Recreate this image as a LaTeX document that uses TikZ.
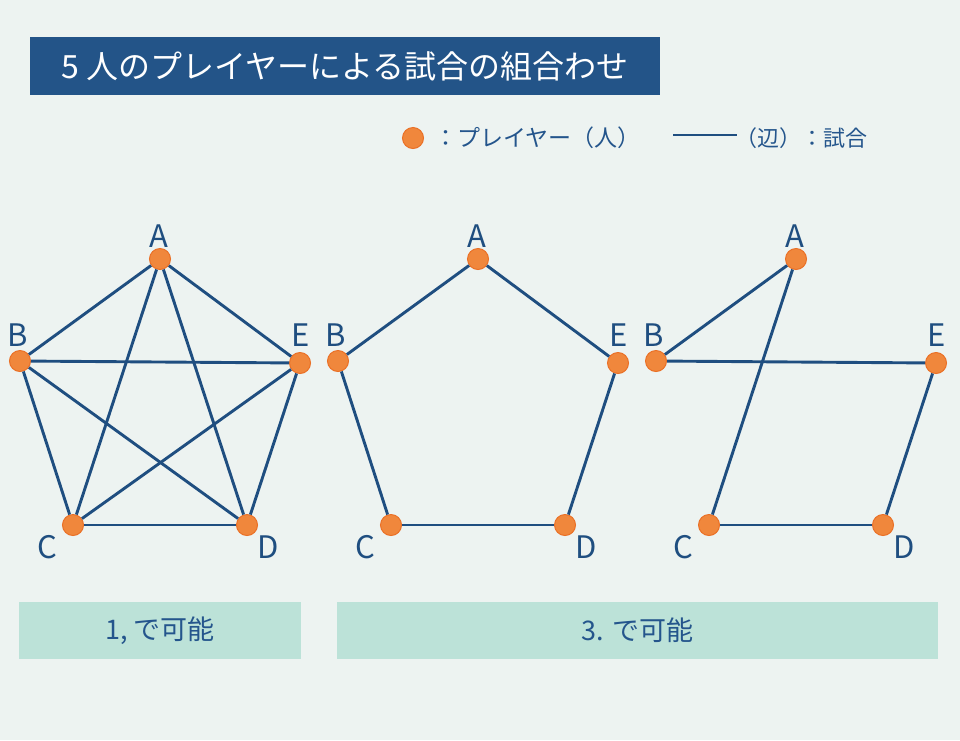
\documentclass[tikz,border=0pt]{standalone}
\usepackage{fontspec}
\setmainfont{Noto Sans CJK JP}
\definecolor{BgGray}{RGB}{237,243,241}
\definecolor{TitleBlue}{RGB}{35,84,136}
\definecolor{EdgeBlue}{RGB}{31,78,128}
\definecolor{TextBlue}{RGB}{36,85,140}
\definecolor{DotOrange}{RGB}{240,135,60}
\definecolor{DotRim}{RGB}{234,112,38}
\definecolor{NoteGreen}{RGB}{188,226,216}
\usetikzlibrary{positioning}

\begin{document}
\begin{tikzpicture}[x=1pt, y=-1pt,
        player/.style={circle, fill=DotOrange, draw=DotRim, line width=1pt,
                       minimum size=21pt, inner sep=0pt},
        plabel/.style={font=\fontsize{31}{32}\selectfont, text=EdgeBlue, inner sep=0pt},
        edge/.style={EdgeBlue, line width=2.9pt},
        titlebox/.style={rectangle, fill=TitleBlue, minimum width=630pt, minimum height=58pt,
                         text=white, font=\fontsize{32}{34}\selectfont},
        notebox/.style={rectangle, fill=NoteGreen, minimum height=57pt,
                        text=TextBlue, font=\fontsize{27}{29}\selectfont},
        legtext/.style={inner sep=0pt, text=TextBlue,
                        font=\fontsize{22}{24}\selectfont}
      ]
        \fill[BgGray] (0,0) rectangle (960,740);
        \useasboundingbox (0,0) rectangle (960,740);

        % Title
        \node[titlebox] (title) at (345,66) {5 人のプレイヤーによる試合の組合わせ};

        % Legend
        \node[player] (legdot) at (413,138) {};
        \node[legtext, anchor=west, font=\fontsize{23}{24}\selectfont] (legplayer) at (434,138) {：プレイヤー（人）};
        \coordinate (legL) at (673,135);
        \coordinate (legR) at (737,135);
        \draw[edge] (legL) -- (legR);
        \node[legtext, anchor=east] (legmatch) at (868,138) {（辺）：試合};

        % Players of the three graphs
        \foreach \g/\dx in {1/0, 2/318, 3/636} {
          \node[player] (A\g) at (160+\dx,259) {};
          \node[player] (B\g) at (20+\dx,361) {};
          \node[player] (E\g) at (300+\dx,363) {};
          \node[player] (C\g) at (73+\dx,525) {};
          \node[player] (D\g) at (247+\dx,525) {};
          \node[plabel] (lA\g) at (159+\dx,236) {A};
          \node[plabel] (lB\g) at (18+\dx,335) {B};
          \node[plabel] (lE\g) at (301+\dx,335) {E};
          \node[plabel] (lC\g) at (47+\dx,547) {C};
          \node[plabel] (lD\g) at (268+\dx,547) {D};
        }

        % Graph 1: every pair
        \draw[edge] (A1) -- (B1);
        \draw[edge] (A1) -- (C1);
        \draw[edge] (A1) -- (D1);
        \draw[edge] (A1) -- (E1);
        \draw[edge] (B1) -- (C1);
        \draw[edge] (B1) -- (D1);
        \draw[edge] (B1) -- (E1);
        \draw[edge] (C1) -- (D1);
        \draw[edge] (C1) -- (E1);
        \draw[edge] (D1) -- (E1);

        % Graph 2
        \draw[edge] (A2) -- (B2);
        \draw[edge] (B2) -- (C2);
        \draw[edge] (C2) -- (D2);
        \draw[edge] (D2) -- (E2);
        \draw[edge] (E2) -- (A2);

        % Graph 3
        \draw[edge] (A3) -- (B3);
        \draw[edge] (A3) -- (C3);
        \draw[edge] (B3) -- (E3);
        \draw[edge] (C3) -- (D3);
        \draw[edge] (D3) -- (E3);

        % Notes
        \node[notebox, minimum width=282pt] (note1) at (160,630.5) {1, で可能};
        \node[notebox, minimum width=601pt] (note3) at (637.5,630.5) {3. で可能};
      \end{tikzpicture}
\end{document}
